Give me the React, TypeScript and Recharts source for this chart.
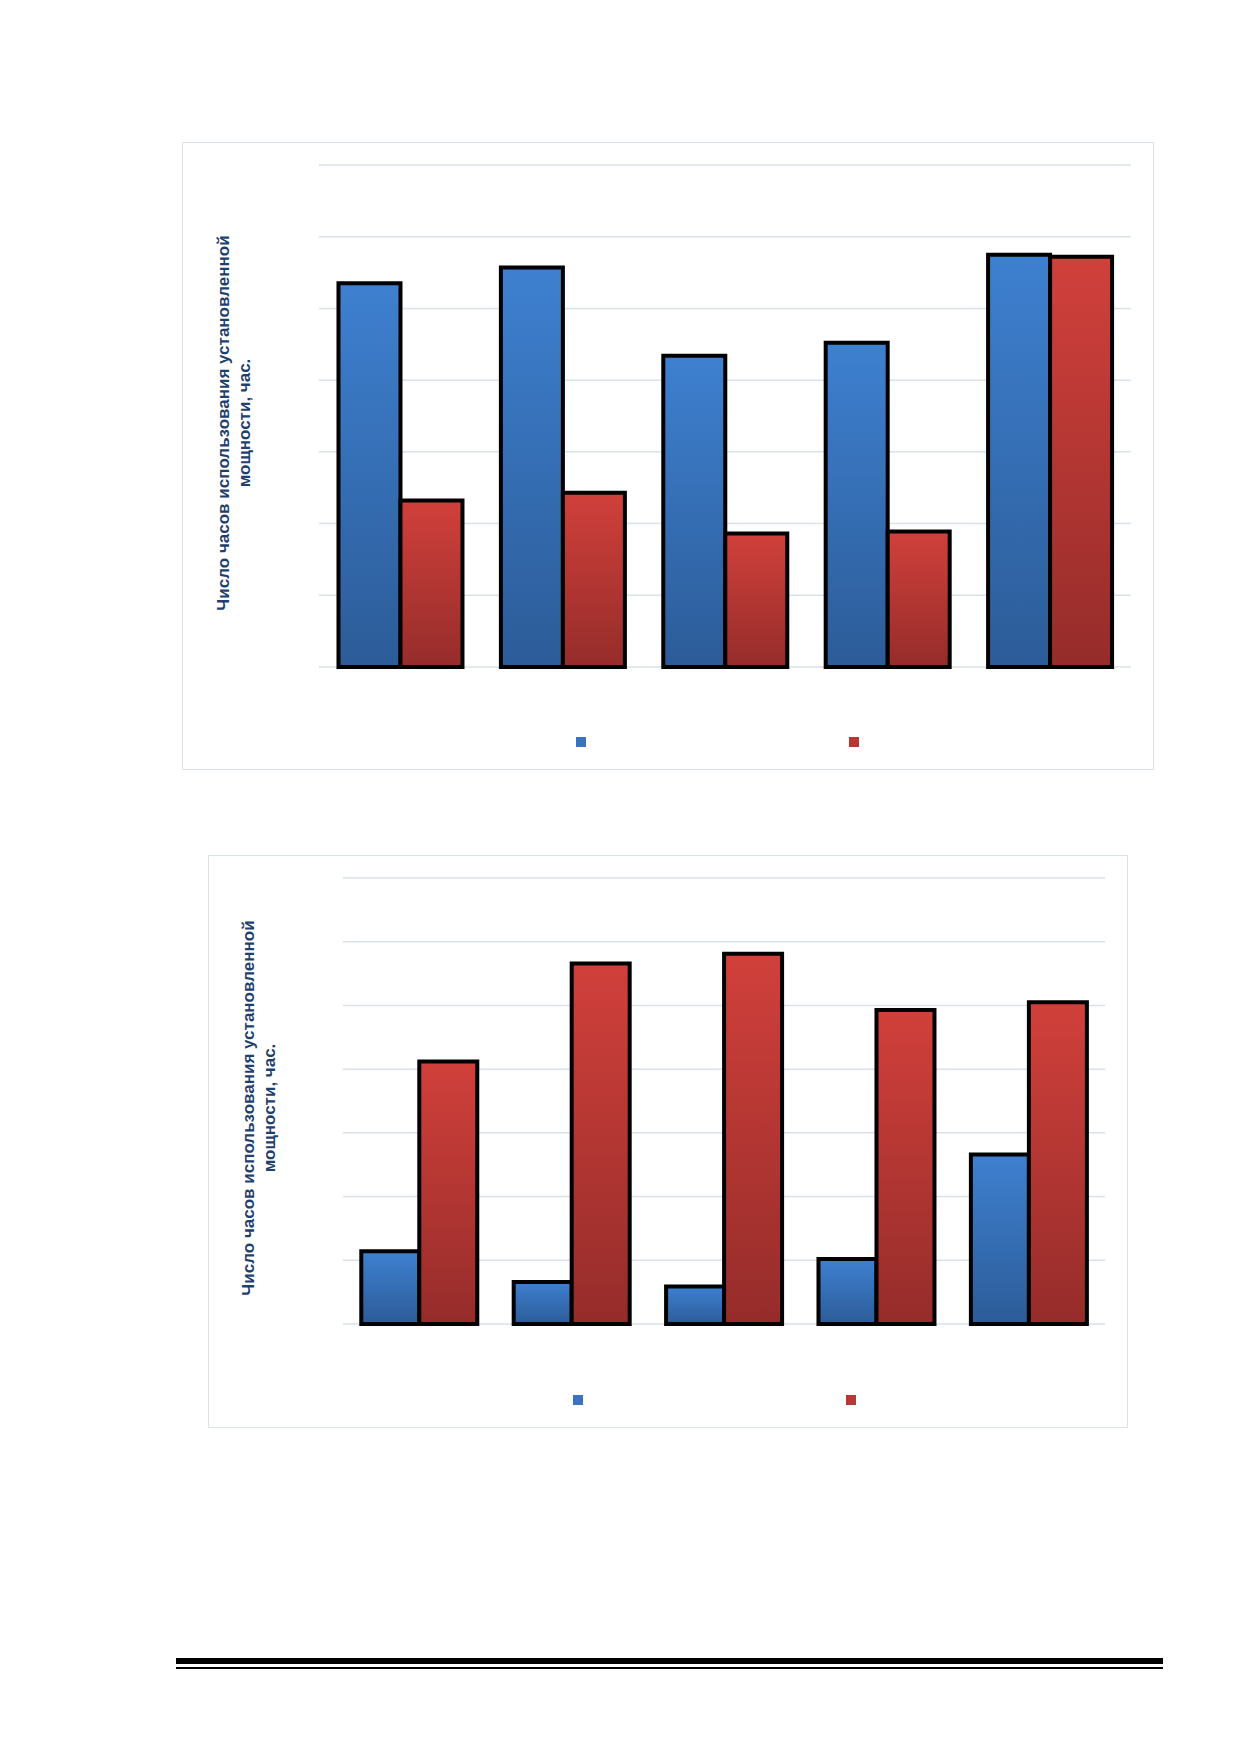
import React from 'react';
import { BarChart, Bar, XAxis, YAxis, CartesianGrid, Legend } from 'recharts';

const categories = ['1', '2', '3', '4', '5'];
const topBlue = [5.35, 5.57, 4.34, 4.52, 5.75];
const topRed = [2.32, 2.43, 1.86, 1.89, 5.72];
const bottomBlue = [1.14, 0.66, 0.59, 1.02, 2.66];
const bottomRed = [4.12, 5.66, 5.81, 4.93, 5.05];
const yTicks = [0, 1, 2, 3, 4, 5, 6, 7];
const axisTitle = ['Число часов использования установленной', 'мощности, час.'];

const LegendSquares = ({ left, gap }: { left: number; gap: number }) => (
    <div style={{ display: 'flex', paddingLeft: left, gap }}>
        <div style={{ width: 10, height: 10, background: '#3B73C0' }} />
        <div style={{ width: 10, height: 10, background: '#B83634' }} />
    </div>
);

interface PanelProps {
    blue: number[];
    red: number[];
    box: { left: number; top: number; width: number; height: number };
    margin: { top: number; right: number; left: number; bottom: number };
    labelPos: { x: number; y: number };
    legend: { left: number; gap: number };
    id: string;
}

const Panel: React.FC<PanelProps> = ({ blue, red, box, margin, labelPos, legend, id }) => {
    const data = categories.map((c, i) => ({ name: c, blue: blue[i], red: red[i] }));
    return (
        <div style={{ position: 'absolute', ...box, border: '1px solid #D9E1EA', boxSizing: 'border-box', background: '#fff' }}>
            <BarChart width={box.width - 2} height={box.height - 2} data={data} margin={margin} barGap={0} barCategoryGap="12%">
                <defs>
                    <linearGradient id={`blue${id}`} x1="0" y1="0" x2="0" y2="1">
                        <stop offset="0%" stopColor="#3E80D0" />
                        <stop offset="100%" stopColor="#2C5C98" />
                    </linearGradient>
                    <linearGradient id={`red${id}`} x1="0" y1="0" x2="0" y2="1">
                        <stop offset="0%" stopColor="#D1403B" />
                        <stop offset="100%" stopColor="#952C2A" />
                    </linearGradient>
                </defs>
                <CartesianGrid vertical={false} stroke="#D9E1EA" strokeWidth={1.5} />
                <XAxis dataKey="name" hide />
                <YAxis hide domain={[0, 7]} ticks={yTicks} />
                <Legend verticalAlign="bottom" content={() => <LegendSquares {...legend} />} wrapperStyle={{ bottom: 22 }} />
                <Bar dataKey="blue" fill={`url(#blue${id})`} stroke="#000" strokeWidth={4} isAnimationActive={false} />
                <Bar dataKey="red" fill={`url(#red${id})`} stroke="#000" strokeWidth={4} isAnimationActive={false} />
            </BarChart>
            <div style={{
                position: 'absolute', left: labelPos.x, top: labelPos.y, width: 0, height: 0,
            }}>
                <div style={{
                    position: 'absolute', transform: 'translate(-50%, -50%) rotate(-90deg)', whiteSpace: 'nowrap',
                    textAlign: 'center', color: '#1F3F6E', fontFamily: 'Arial, "Liberation Sans", sans-serif',
                    fontWeight: 'bold', fontSize: 17, lineHeight: '21px',
                }}>
                    {axisTitle[0]}<br />{axisTitle[1]}
                </div>
            </div>
        </div>
    );
};

export default function App() {
    return (
        <div style={{ position: 'absolute', left: 0, top: 0, width: 1239, height: 1752, background: '#fff' }}>
            <Panel
                id="a"
                blue={topBlue}
                red={topRed}
                box={{ left: 182, top: 142, width: 972, height: 628 }}
                margin={{ top: 22, right: 22, left: 136, bottom: 92 }}
                labelPos={{ x: 51, y: 280 }}
                legend={{ left: 257, gap: 263 }}
            />
            <Panel
                id="b"
                blue={bottomBlue}
                red={bottomRed}
                box={{ left: 208, top: 855, width: 920, height: 573 }}
                margin={{ top: 22, right: 22, left: 134, bottom: 93 }}
                labelPos={{ x: 50, y: 252 }}
                legend={{ left: 230, gap: 263 }}
            />
            <div style={{ position: 'absolute', left: 176, top: 1658, width: 987, height: 6, background: '#000' }} />
            <div style={{ position: 'absolute', left: 176, top: 1667, width: 987, height: 1.5, background: '#000' }} />
        </div>
    );
}
